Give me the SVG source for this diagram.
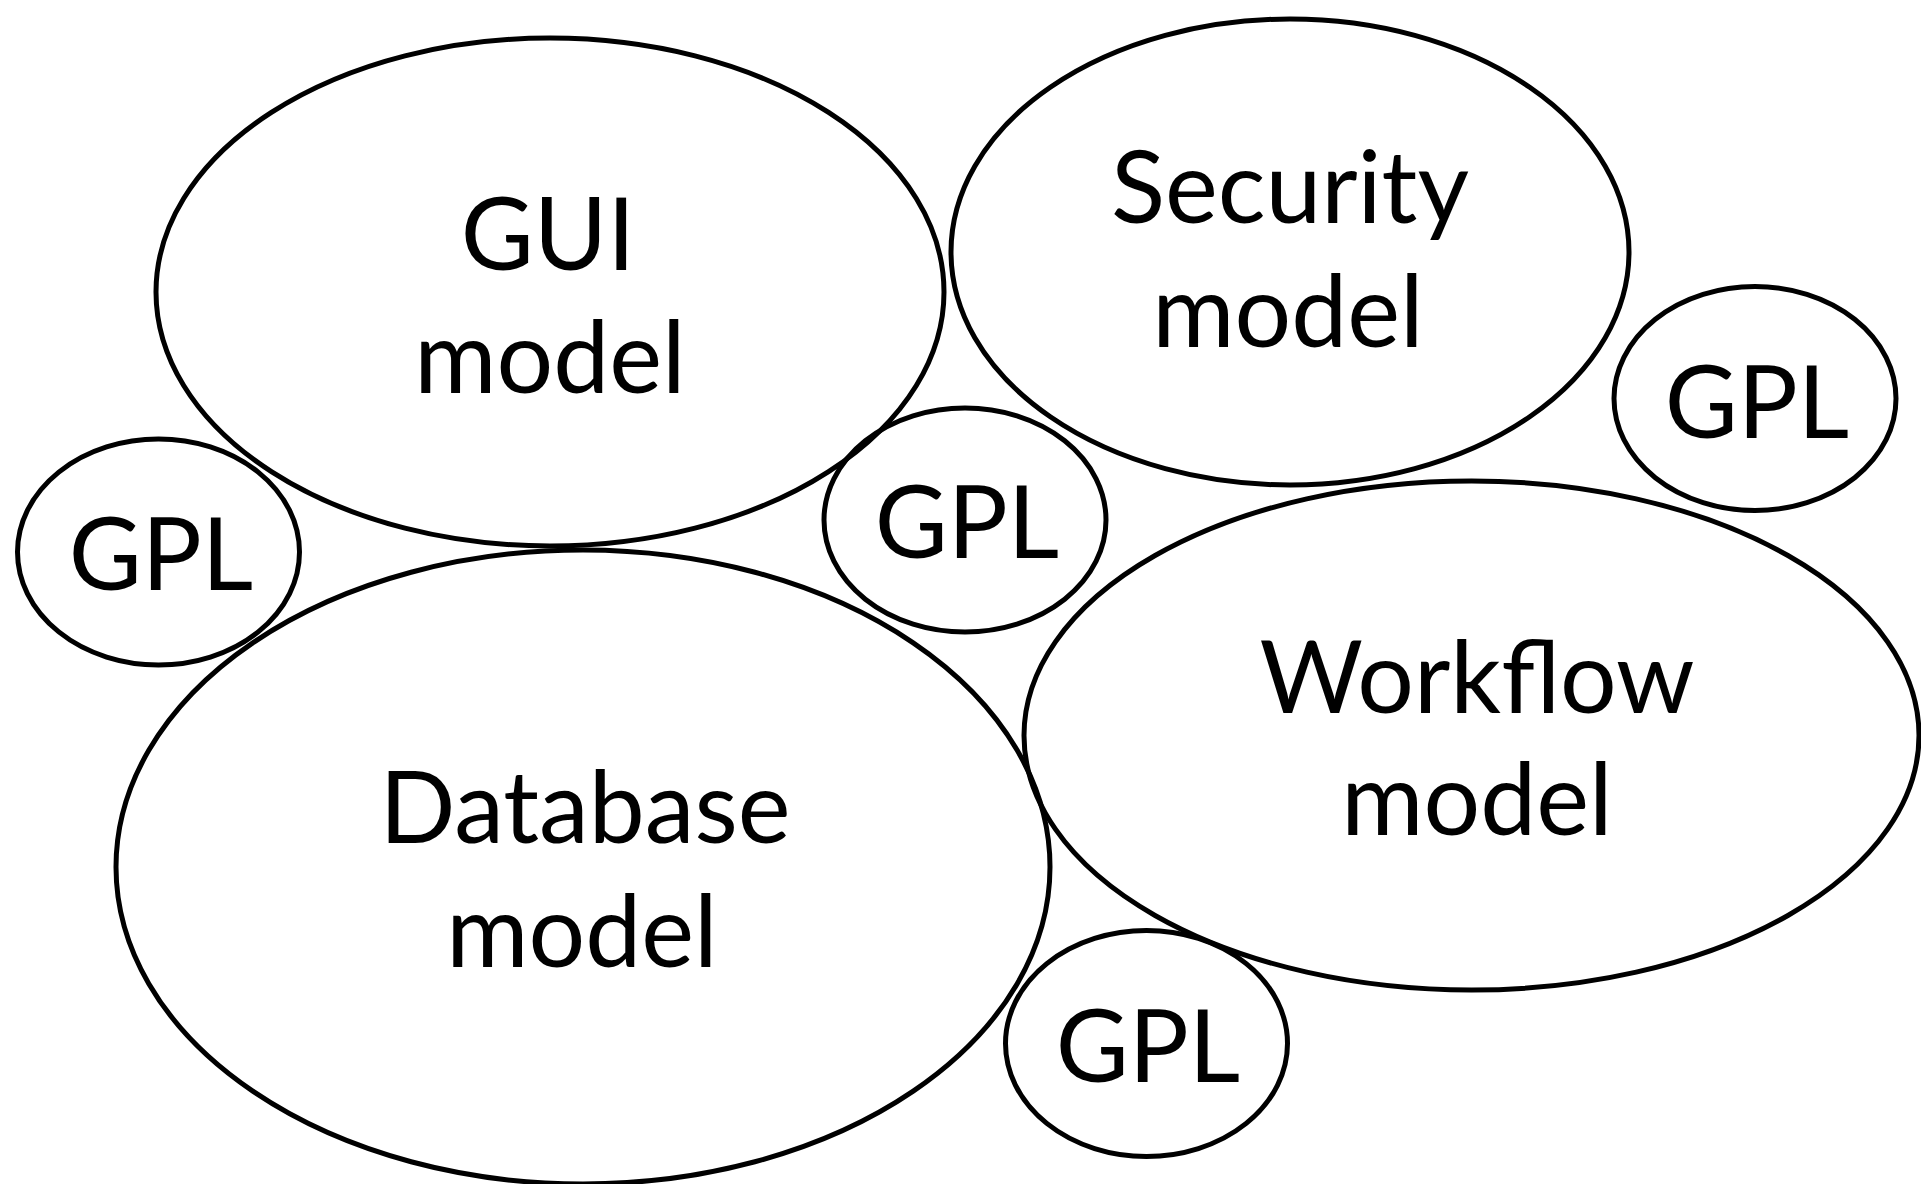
<svg xmlns="http://www.w3.org/2000/svg" width="1921" height="1184" viewBox="0 0 1921 1184">
<style>
.shape{fill:none;stroke:#000;stroke-width:5}
.lbl{font-family:"Gill Sans","Lato","Liberation Sans",sans-serif;font-size:100px;fill:#000;text-anchor:middle}
</style>
<rect x="0" y="0" width="1921" height="1184" fill="#fff"/>
<g id="gui">
<ellipse class="shape" cx="550" cy="292" rx="394" ry="254"/>
<text class="lbl" x="548" y="270">GUI</text>
<text class="lbl" x="550" y="393">model</text>
</g>
<g id="security">
<ellipse class="shape" cx="1290" cy="252" rx="339" ry="233"/>
<text class="lbl" x="1290" y="223">Security</text>
<text class="lbl" x="1288" y="347">model</text>
</g>
<g id="database">
<ellipse class="shape" cx="583" cy="867" rx="467" ry="317"/>
<text class="lbl" x="585" y="843">Database</text>
<text class="lbl" x="582" y="967">model</text>
</g>
<g id="workflow">
<ellipse class="shape" cx="1471.5" cy="735.5" rx="447.5" ry="254.5"/>
<text class="lbl" x="1477" y="713">Workflow</text>
<text class="lbl" x="1477" y="835">model</text>
</g>
<g id="gpl-left">
<ellipse class="shape" cx="158.5" cy="552" rx="141" ry="113"/>
<text class="lbl" x="161" y="590">GPL</text>
</g>
<g id="gpl-middle">
<ellipse class="shape" cx="965" cy="520" rx="141" ry="112"/>
<text class="lbl" x="967" y="558">GPL</text>
</g>
<g id="gpl-top-right">
<ellipse class="shape" cx="1755" cy="398.5" rx="141" ry="112"/>
<text class="lbl" x="1757" y="438">GPL</text>
</g>
<g id="gpl-bottom">
<ellipse class="shape" cx="1146.5" cy="1043.5" rx="141" ry="113"/>
<text class="lbl" x="1148" y="1082">GPL</text>
</g>
<g id="connectors"></g>
</svg>
